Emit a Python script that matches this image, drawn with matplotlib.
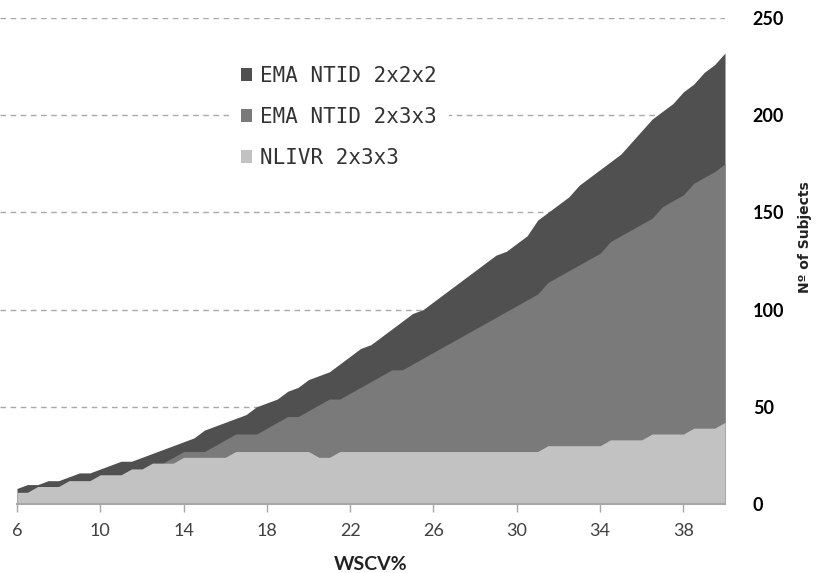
import numpy as np
import matplotlib.pyplot as plt
from matplotlib.patches import Patch

# WSCV% sampled every 0.5
wscv = np.arange(6, 40.5, 0.5)

ema_2x2x2 = [8, 10, 10, 12, 12, 14, 16, 16, 18, 20,
             22, 22, 24, 26, 28, 30, 32, 34, 38, 40,
             42, 44, 46, 50, 52, 54, 58, 60, 64, 66,
             68, 72, 76, 80, 82, 86, 90, 94, 98, 100,
             104, 108, 112, 116, 120, 124, 128, 130, 134, 138,
             146, 150, 154, 158, 164, 168, 172, 176, 180, 186,
             192, 198, 202, 206, 212, 216, 222, 226,
             232]

ema_2x3x3 = [6, 6, 9, 9, 9, 12, 12, 12, 15, 15,
             15, 18, 18, 21, 21, 24, 27, 27, 27, 30,
             33, 36, 36, 36, 39, 42, 45, 45, 48, 51,
             54, 54, 57, 60, 63, 66, 69, 69, 72, 75,
             78, 81, 84, 87, 90, 93, 96, 99, 102, 105,
             108, 114, 117, 120, 123, 126, 129, 135, 138, 141,
             144, 147, 153, 156, 159, 165, 168, 171,
             175]

nlivr_2x3x3 = [6, 6, 9, 9, 9, 12, 12, 12, 15, 15,
               15, 18, 18, 21, 21, 21, 24, 24, 24, 24,
               24, 27, 27, 27, 27, 27, 27, 27, 27, 24,
               24, 27, 27, 27, 27, 27, 27, 27, 27, 27,
               27, 27, 27, 27, 27, 27, 27, 27, 27, 27,
               27, 30, 30, 30, 30, 30, 30, 33, 33, 33,
               33, 36, 36, 36, 36, 39, 39, 39,
               42]

labels = ["EMA NTID 2x2x2", "EMA NTID 2x3x3", "NLIVR 2x3x3"]
colors = ["#505050", "#7a7a7a", "#c2c2c2"]
x_ticks = [6, 10, 14, 18, 22, 26, 30, 34, 38]
y_ticks = [0, 50, 100, 150, 200, 250]

plt.rcParams['font.family'] = ['Lato', 'DejaVu Sans']

fig = plt.figure(figsize=(8.17, 5.73), dpi=100)
ax = fig.add_axes([0, 0.1204, 0.8874, 0.8482])

for series, color in zip([ema_2x2x2, ema_2x3x3, nlivr_2x3x3], colors):
    ax.fill_between(wscv, 0, series, color=color, lw=0, zorder=2)

ax.set_xlim(5.184, 40)
ax.set_ylim(0, 250)

for s in ["top", "left", "right"]:
    ax.spines[s].set_visible(False)
ax.spines["bottom"].set_bounds(6, 40)
ax.spines["bottom"].set_color("#a8a8a8")
ax.spines["bottom"].set_linewidth(1.5)
ax.spines["bottom"].set_zorder(3)

ax.set_xticks(x_ticks)
ax.tick_params(axis="x", length=6, width=1, color="#a8a8a8", labelsize=13,
               labelcolor="#404040", pad=8)

ax.yaxis.tick_right()
ax.set_yticks(y_ticks)
ax.tick_params(axis="y", length=0, labelsize=13, pad=20)
for lbl in ax.get_yticklabels():
    lbl.set_fontweight("bold")

for v in y_ticks[1:]:
    ax.axhline(v, color="#a8a8a8", lw=1, ls=(0, (4, 3.3)), zorder=1)

fig.text(371/817, 1 - 565/573, "WSCV%", ha="center", va="center",
         fontsize=14, fontweight="bold", color="#222222")
fig.text(805/817, 1 - 237/573, "Nº of Subjects", ha="center", va="center",
         rotation=90, fontsize=10, fontweight="bold", color="#222222",
         family=["DejaVu Sans"])

handles = [Patch(facecolor=c, edgecolor="none") for c in colors]
leg = fig.legend(handles, labels, loc="upper left",
                 bbox_to_anchor=(0.2797, 0.9067), borderaxespad=0,
                 prop=dict(family="DejaVu Sans Mono", size=15),
                 frameon=True, facecolor="white", edgecolor="none",
                 framealpha=1, fancybox=False, borderpad=0.6,
                 handlelength=0.55, handleheight=0.55, handletextpad=0.35,
                 labelspacing=1.0)
for t in leg.get_texts():
    t.set_color("#333333")

fig.savefig("out.png", dpi=100)
